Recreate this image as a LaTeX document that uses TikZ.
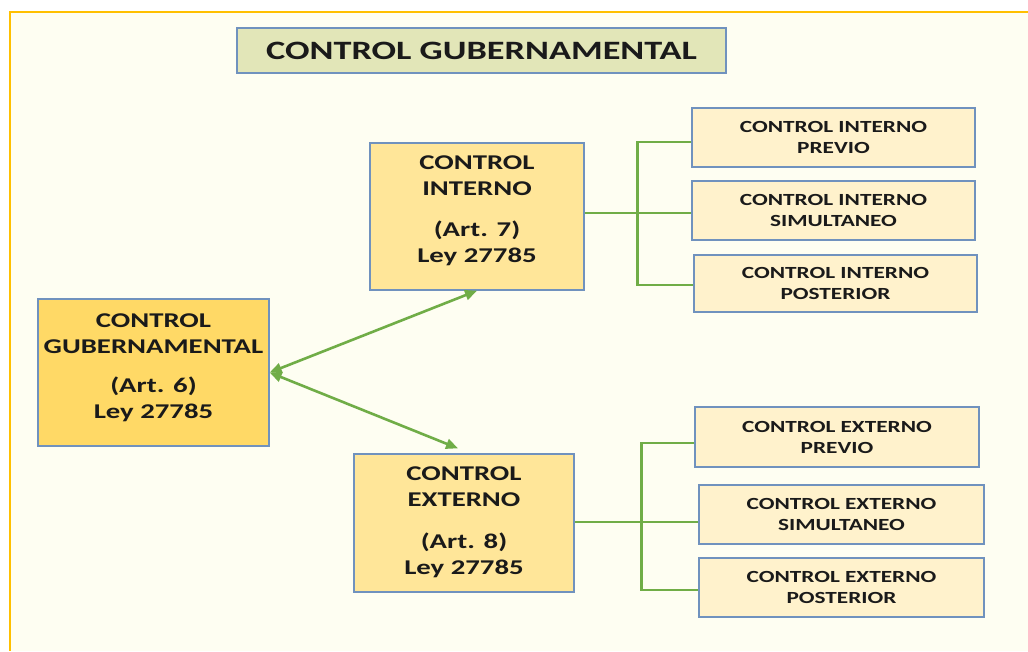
\documentclass[tikz,border=0pt]{standalone}
\usepackage{fontspec}
\setmainfont[FakeStretch=1.37]{Carlito}
\usetikzlibrary{arrows.meta}
\definecolor{bgc}{HTML}{FEFEF2}
\definecolor{framec}{HTML}{FFC000}
\definecolor{titlec}{HTML}{E2E6B8}
\definecolor{bordc}{HTML}{7092BE}
\definecolor{mainc}{HTML}{FFD966}
\definecolor{midc}{HTML}{FFE699}
\definecolor{smallc}{HTML}{FFF2CC}
\definecolor{linec}{HTML}{70AD47}
\definecolor{txtc}{HTML}{1A1A1A}
\begin{document}
\begin{tikzpicture}[x=1pt,y=-1pt,
  box/.style={draw=bordc, line width=1.3pt, inner sep=0pt, align=center, text=txtc, font=\bfseries},
  bigtxt/.style={inner sep=0pt, align=center, text=txtc, font=\fontsize{21}{26}\selectfont\bfseries},
  smallbox/.style={box, fill=smallc, minimum width=283pt, minimum height=59pt, font=\fontsize{17}{21}\selectfont\bfseries},
  conn/.style={draw=linec, line width=2.8pt},
  dbl/.style={draw=linec, line width=2.6pt, {Triangle[length=12pt,width=10pt]}-{Triangle[length=12pt,width=10pt]}}
]
\useasboundingbox (0,0) rectangle (1028,651);
\fill[bgc] (10,12) rectangle (1028,651);
\draw[framec, line width=2pt] (1028,12) -- (10,12) -- (10,651);

% title
\node[box, fill=titlec, minimum width=489pt, minimum height=45pt, font=\fontsize{26.5}{30}\selectfont\bfseries] (title) at (481.5,50.5) {CONTROL GUBERNAMENTAL};

% main boxes
\node[box, fill=mainc, minimum width=231pt, minimum height=147pt] (main) at (153.5,372.5) {};
\node[bigtxt] (mainT) at ([yshift=5pt]main.center) {CONTROL\\GUBERNAMENTAL\\[13pt](Art. 6)\\Ley 27785};

\node[box, fill=midc, minimum width=214pt, minimum height=147pt] (interno) at (477,216.5) {};
\node[bigtxt] (internoT) at ([yshift=6pt]interno.center) {CONTROL\\INTERNO\\[15pt](Art. 7)\\Ley 27785};

\node[box, fill=midc, minimum width=220pt, minimum height=138pt] (externo) at (464,523) {};
\node[bigtxt] (externoT) at ([yshift=1pt]externo.center) {CONTROL\\EXTERNO\\[16pt](Art. 8)\\Ley 27785};

% small boxes
\node[smallbox] (iprev) at (833.5,137.5) {CONTROL INTERNO\\PREVIO};
\node[smallbox] (isim)  at (833.5,210.5) {CONTROL INTERNO\\SIMULTANEO};
\node[smallbox, minimum height=57pt] (ipost) at (835.5,283.5) {CONTROL INTERNO\\POSTERIOR};

\node[smallbox, minimum width=284pt, minimum height=60pt] (eprev) at (837,437) {CONTROL EXTERNO\\PREVIO};
\node[smallbox, minimum width=285pt] (esim)  at (841.5,514.5) {CONTROL EXTERNO\\SIMULTANEO};
\node[smallbox, minimum width=285pt] (epost) at (841.5,587.5) {CONTROL EXTERNO\\POSTERIOR};

% arrows
\draw[dbl] (main.east) -- (interno.south);
\draw[dbl] (main.east) -- ([xshift=-6pt,yshift=5pt]externo.north);

% brackets
\draw[conn] ([yshift=3.5pt]interno.east) -- ([yshift=3.5pt]interno.east -| isim.west);
\draw[conn] ([yshift=-4.5pt]iprev.west) -- ++(-54,0) |- ([yshift=-1.5pt]ipost.west);

\draw[conn] ([yshift=1pt]externo.east) -- ([yshift=1pt]externo.east -| esim.west);
\draw[conn] ([yshift=-6pt]eprev.west) -- ++(-53,0) |- ([yshift=-2.5pt]epost.west);
\end{tikzpicture}
\end{document}
